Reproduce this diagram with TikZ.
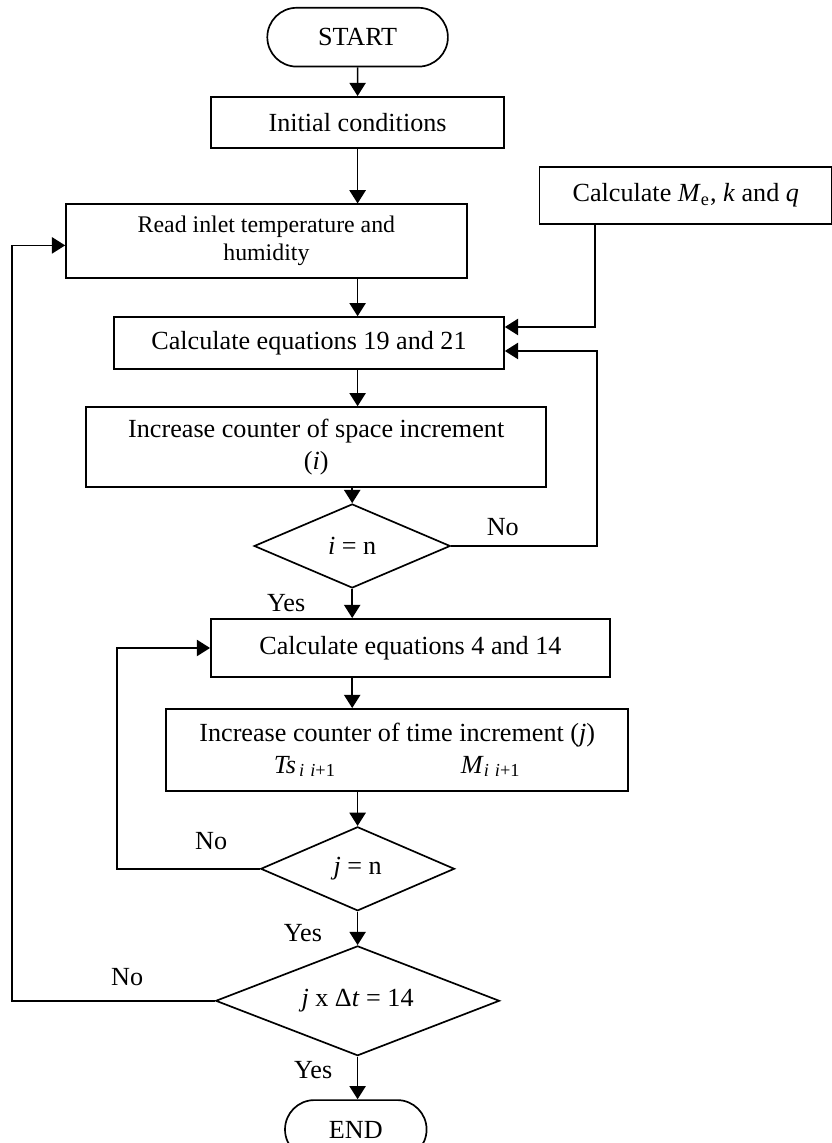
\documentclass[tikz,border=0pt]{standalone}
\usepackage{fontspec}
\setmainfont{Liberation Serif}
\usetikzlibrary{shapes.geometric,shapes.misc,arrows.meta}

\begin{document}
\begin{tikzpicture}[
box/.style = {draw, rectangle, inner sep=1pt, align=center},
term/.style = {draw, rounded rectangle, inner sep=1pt},
test/.style = {draw, diamond, inner sep=0pt},
lbl/.style = {inner sep=1pt},
font=\fontsize{12.4}{15}\selectfont,
>={Triangle[length=0.22cm,width=0.27cm]},
thick]
\useasboundingbox (0,0) rectangle (13.85,19.05);
    \node[term, minimum width=3.08cm, minimum height=0.98cm] (A) at (5.96,18.43) {START};
    \node[box, minimum width=4.88cm, minimum height=0.85cm] (B) at (5.96,17.01) {Initial conditions};
    \node[box, minimum width=6.68cm, minimum height=1.23cm,
          font=\fontsize{11.3}{13.3}\selectfont] (C) at (4.44,15.03) {Read inlet temperature and\\humidity};
    \node[box, minimum width=4.88cm, minimum height=0.95cm] (L) at (11.43,15.79)
          {Calculate \textit{M}\textsubscript{e}, \textit{k} and \textit{q}};
    \node[box, minimum width=6.5cm, minimum height=0.87cm] (D) at (5.15,13.33) {Calculate equations 19 and 21};
    \node[box, minimum width=7.67cm, minimum height=1.33cm] (E) at (5.27,11.6)
          {Increase counter of space increment\\(\textit{i})};
    \node[test, aspect=2.34, minimum width=3.27cm, minimum height=1.4cm] (F) at (5.87,9.95) {\textit{i} = n};
    \node[box, minimum width=6.65cm, minimum height=0.97cm] (G) at (6.84,8.25) {Calculate equations 4 and 14};
    \node[box, minimum width=7.7cm, minimum height=1.37cm] (H) at (6.62,6.55)
          {Increase counter of time increment (\textit{j})\\
           \textit{Ts}\textsubscript{\,\textit{i}\,\,\textit{i}+1}\hspace{2.08cm}\textit{M}\textsubscript{\textit{i}\,\,\textit{i}+1}};
    \node[test, aspect=2.31, minimum width=3.23cm, minimum height=1.4cm] (I) at (5.96,4.57) {\textit{j} = n};
    \node[test, aspect=2.58, minimum width=4.73cm, minimum height=1.83cm] (J) at (5.96,2.37) {\textit{j} x Δ\textit{t} = 14};
    \node[term, minimum width=2.43cm, minimum height=0.98cm] (K) at (5.93,0.225) {END};

    \node[lbl] (N1) at (8.38,10.27) {No};
    \node[lbl] (Y1) at (4.77,9.0) {Yes};
    \node[lbl] (N2) at (3.52,5.03) {No};
    \node[lbl] (Y2) at (5.05,3.5) {Yes};
    \node[lbl] (N3) at (2.12,2.77) {No};
    \node[lbl] (Y3) at (5.22,1.22) {Yes};

    \draw[->] (A) -- (B);
    \draw[->] (B) -- (B |- C.north);
    \draw[->] (B |- C.south) -- (B |- D.north);
    \draw[->] (B |- D.south) -- (B |- E.north);
    \draw[->] (F |- E.south) -- (F);
    \draw[->] (F) -- (F |- G.north);
    \draw[->] (F |- G.south) -- (F |- H.north);
    \draw[->] (I |- H.south) -- (I);
    \draw[->] (I) -- (J);
    \draw[->] (J) -- (J |- K.north);

    \draw[->] ([xshift=-1.51cm]L.south) |- ([yshift=0.27cm]D.east);
    \draw[->] (F.east) -- ++(2.43,0) |- ([yshift=-0.13cm]D.east);
    \draw[->] (I.west) -- ++(-2.38,0) |- (G.west);
    \draw[->] (J.west) -- ++(-3.38,0) |- ([yshift=-0.07cm]C.west);

\end{tikzpicture}
\end{document}
